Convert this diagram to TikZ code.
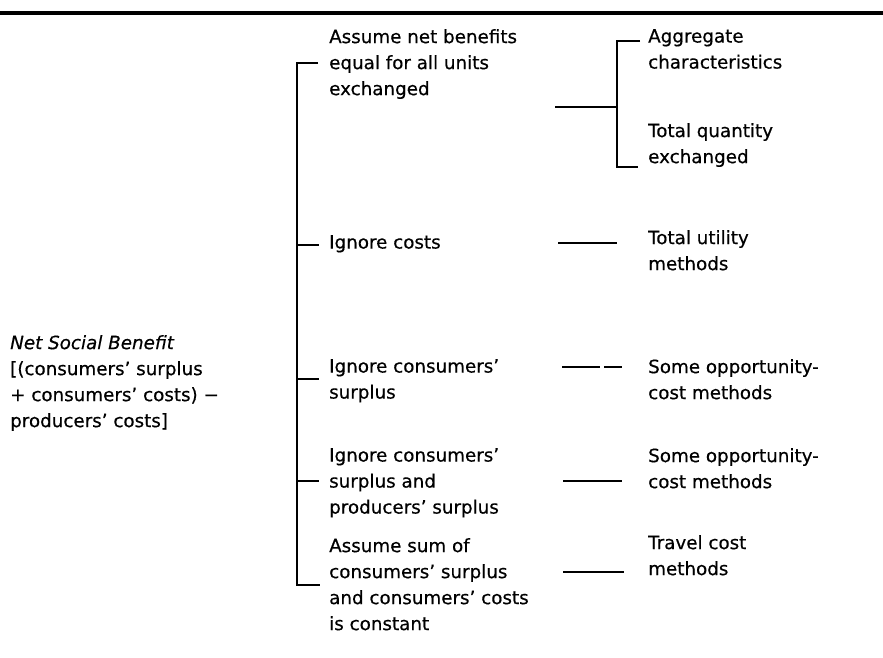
\documentclass[tikz,border=0pt]{standalone}
\usepackage{fontspec}
\setmainfont{DejaVu Sans}[FakeBold=0.5]
\begin{document}
\begin{tikzpicture}[x=1pt,y=-1pt,
  txt/.style={anchor=north west, inner sep=0pt, align=left, font=\fontsize{18.3}{26}\selectfont},
  ln/.style={line width=1.7pt, line cap=butt},
  rule/.style={line width=3.2pt},
  broken/.style={ln, dash pattern=on 38pt off 4pt on 20pt}
]
\useasboundingbox (0,0) rectangle (883,657);

% top rule
\coordinate (rl) at (0,13);
\coordinate (rr) at (883,13);
\draw[rule] (rl) -- (rr);

% left block
\node[txt] (nsb) at (10,335) {\textit{Net Social Benefit}\\{[}(consumers’ surplus\\+ consumers’ costs) −\\producers’ costs{]}};

% column 1
\node[txt] (b1) at (329,29) {Assume net benefits\\equal for all units\\exchanged};
\node[txt] (b2) at (329,235) {Ignore costs};
\node[txt] (b3) at (329,359) {Ignore consumers’\\surplus};
\node[txt] (b4) at (329,448) {Ignore consumers’\\surplus and\\producers’ surplus};
\node[txt] (b5) at (329,538) {Assume sum of\\consumers’ surplus\\and consumers’ costs\\is constant};

% column 2
\node[txt] (c1a) at (648,29) {Aggregate\\characteristics};
\node[txt] (c1b) at (648,123) {Total quantity\\exchanged};
\node[txt] (c2) at (648,230) {Total utility\\methods};
\node[txt] (c3) at (648,359) {Some opportunity-\\cost methods};
\node[txt] (c4) at (648,448) {Some opportunity-\\cost methods};
\node[txt] (c5) at (648,535) {Travel cost\\methods};

% main bracket
\coordinate (s1) at (297,63);  \coordinate (e1) at (318,63);
\coordinate (s2) at (297,245); \coordinate (e2) at (319,245);
\coordinate (s3) at (297,379); \coordinate (e3) at (319,379);
\coordinate (s4) at (297,481); \coordinate (e4) at (319,481);
\coordinate (s5) at (297,585); \coordinate (e5) at (320,585);
\draw[ln] (e1) -- (s1) -- (s5) -- (e5);
\draw[ln] (s2) -- (e2);
\draw[ln] (s3) -- (e3);
\draw[ln] (s4) -- (e4);

% sub bracket for first row
\coordinate (q1) at (617,41);  \coordinate (f1) at (640,41);
\coordinate (q2) at (617,167); \coordinate (f2) at (638,167);
\coordinate (j1) at (555,107); \coordinate (k1) at (617,107);
\draw[ln] (f1) -- (q1) -- (q2) -- (f2);
\draw[ln] (j1) -- (k1);

% connectors between columns
\coordinate (j2) at (558,243); \coordinate (k2) at (617,243);
\coordinate (j3) at (562,367); \coordinate (k3) at (622,367);
\coordinate (j4) at (563,481); \coordinate (k4) at (622,481);
\coordinate (j5) at (563,572); \coordinate (k5) at (624,572);
\draw[ln] (j2) -- (k2);
\draw[broken] (j3) -- (k3);
\draw[ln] (j4) -- (k4);
\draw[ln] (j5) -- (k5);
\end{tikzpicture}
\end{document}
